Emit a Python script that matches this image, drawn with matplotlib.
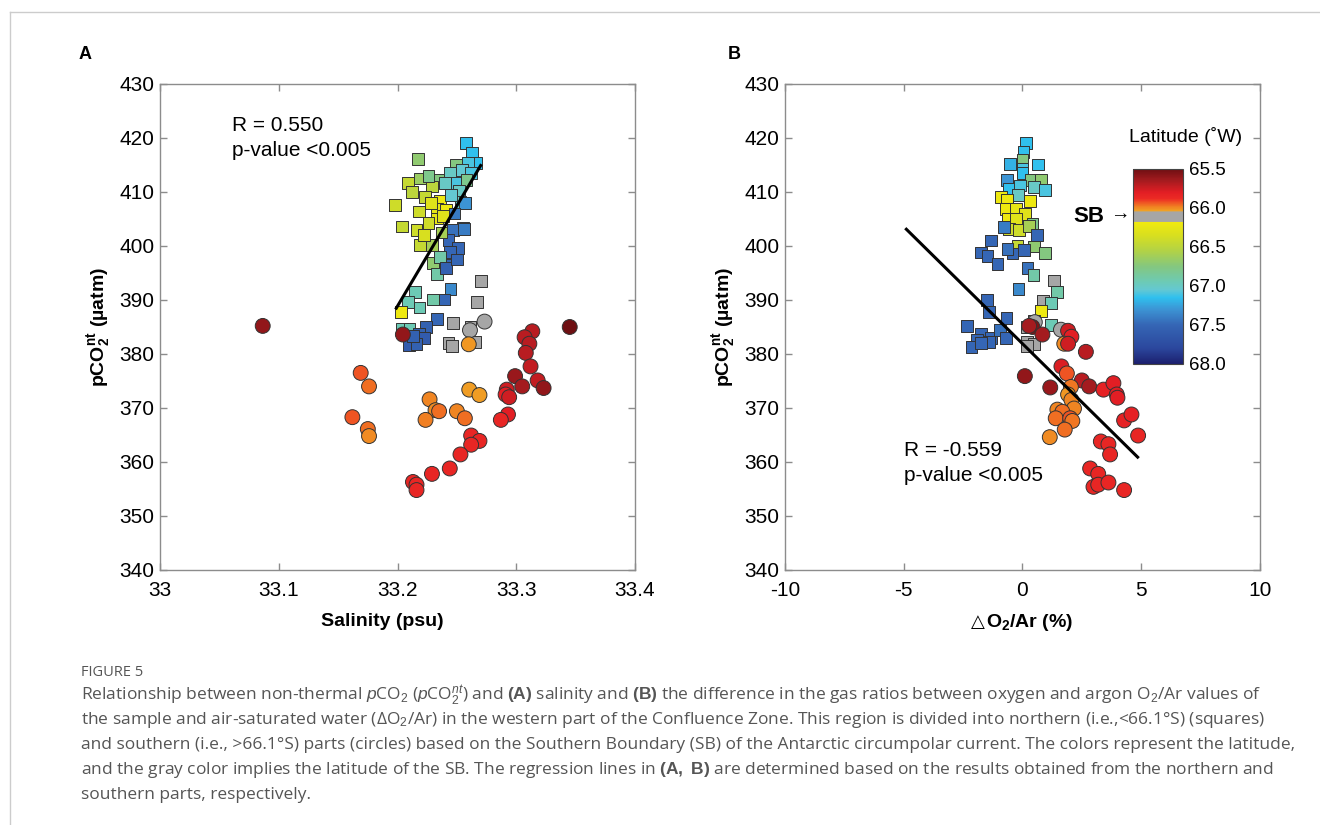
import numpy as np
import matplotlib
matplotlib.use("Agg")
import matplotlib.pyplot as plt
from matplotlib.colors import LinearSegmentedColormap, Normalize
from matplotlib.cm import ScalarMappable
from matplotlib.offsetbox import TextArea, HPacker, AnchoredOffsetbox

plt.rcParams['font.family'] = ['Liberation Sans', 'DejaVu Sans']
plt.rcParams['mathtext.fontset'] = 'custom'
plt.rcParams['mathtext.rm'] = 'Liberation Sans'
plt.rcParams['mathtext.it'] = 'Liberation Sans:italic'
plt.rcParams['mathtext.bf'] = 'Liberation Sans:bold'
plt.rcParams['axes.unicode_minus'] = False

# ---- panel A : salinity vs pCO2nt ----
# northern part (squares): salinity, pCO2, latitude
salA_sq = [33.2577, 33.2625, 33.2173, 33.266, 33.2596, 33.249, 33.244, 33.254, 33.262, 33.219,
           33.209, 33.234, 33.229, 33.240, 33.2504, 33.258, 33.252, 33.223, 33.236, 33.198,
           33.218, 33.233, 33.241, 33.253, 33.257, 33.233, 33.226, 33.238, 33.204, 33.216,
           33.255, 33.247, 33.219, 33.229, 33.243, 33.251, 33.244, 33.230, 33.240, 33.236,
           33.233, 33.241, 33.2447, 33.239, 33.230, 33.215, 33.209, 33.2185, 33.203, 33.204,
           33.210, 33.233, 33.224, 33.218, 33.222, 33.2095, 33.216, 33.213, 33.270, 33.2666,
           33.2466, 33.2615, 33.2657, 33.243, 33.246, 33.228, 33.245, 33.222, 33.248, 33.237,
           33.212, 33.226, 33.250, 33.256]
pco2A_sq = [419.1, 417.2, 416.1, 415.3, 415.3, 415.0, 413.6, 414.1, 413.5, 412.5,
            411.6, 412.2, 411.0, 411.7, 411.7, 412.2, 410.2, 409.1, 408.4, 407.6,
            406.4, 406.9, 406.7, 408.2, 408.0, 405.1, 404.2, 405.5, 403.6, 403.0,
            403.3, 403.0, 400.2, 400.2, 401.1, 399.6, 398.9, 396.8, 396.5, 398.0,
            394.8, 395.9, 392.1, 390.1, 390.1, 391.5, 389.6, 388.6, 387.8, 384.7,
            384.7, 386.5, 385.0, 383.8, 383.0, 381.6, 381.9, 383.3, 393.5, 389.6,
            385.7, 385.1, 382.2, 382.1, 381.5, 408.0, 409.5, 402.0, 406.0, 402.5,
            410.0, 413.0, 397.5, 403.2]
latA_sq = [67.15, 67.15, 66.7, 67.15, 67.1, 66.75, 67.0, 67.05, 67.1, 66.65,
           66.45, 66.75, 66.5, 67.0, 67.1, 66.8, 67.0, 66.45, 66.2, 66.4,
           66.4, 66.25, 66.2, 67.0, 67.3, 66.25, 66.4, 66.3, 66.45, 66.4,
           67.4, 67.45, 66.45, 66.6, 67.5, 67.5, 67.5, 66.7, 67.5, 66.9,
           66.9, 67.55, 67.35, 67.5, 66.9, 66.95, 66.95, 66.95, 66.2, 66.95,
           66.95, 67.5, 67.55, 67.55, 67.6, 67.6, 67.55, 67.55, 66.1, 66.1,
           66.1, 66.1, 66.1, 66.1, 66.1, 66.3, 67.05, 66.35, 67.4, 66.6,
           66.5, 66.8, 67.5, 67.4]
# southern part (circles)
salA_ci = [33.0865, 33.345, 33.2045, 33.2733, 33.261, 33.260, 33.3135, 33.307, 33.311, 33.308,
           33.312, 33.318, 33.323, 33.299, 33.305, 33.292, 33.291, 33.294, 33.293, 33.287,
           33.262, 33.269, 33.262, 33.253, 33.244, 33.229, 33.213, 33.216, 33.216, 33.169,
           33.176, 33.162, 33.175, 33.176, 33.227, 33.232, 33.235, 33.2236, 33.2604, 33.269,
           33.250, 33.2567]
pco2A_ci = [385.2, 385.0, 383.6, 386.0, 384.4, 381.8, 384.2, 383.1, 381.9, 380.2,
            377.7, 375.1, 373.7, 375.9, 374.0, 373.4, 372.5, 372.0, 368.8, 367.8,
            364.9, 363.9, 363.2, 361.4, 358.8, 357.8, 356.3, 355.8, 354.8, 376.5,
            374.0, 368.3, 366.1, 364.8, 371.6, 369.6, 369.4, 367.8, 373.4, 372.4,
            369.4, 368.1]
latA_ci = [65.6, 65.5, 65.6, 66.1, 66.1, 66.02, 65.7, 65.7, 65.7, 65.7,
           65.72, 65.72, 65.6, 65.62, 65.65, 65.75, 65.8, 65.75, 65.8, 65.85,
           65.85, 65.85, 65.85, 65.85, 65.85, 65.85, 65.85, 65.85, 65.85, 65.93,
           65.96, 65.93, 65.96, 66.0, 65.99, 66.0, 65.96, 65.98, 66.03, 66.03,
           65.99, 65.96]
fitA_x = [33.199, 33.270]
fitA_y = [388.5, 414.9]

# ---- panel B : dO2/Ar vs pCO2nt ----
dB_sq = [0.14, 0.04, 0.00, -0.52, 0.66, 0.0, 0.0, -0.66, 0.35, 0.77,
         -0.56, -0.1, 0.49, 0.96, -0.2, -0.91, -0.66, 0.32, -0.70, -0.28,
         0.10, -0.63, -0.28, 0.42, -0.56, -0.14, 0.28, -0.77, 0.60, -0.21,
         0.49, 0.96, 0.07, -0.42, -1.33, -1.76, -1.47, -1.05, -0.63, 0.21,
         0.46, -0.17, 1.33, 1.47, 0.88, 1.19, 0.77, -1.50, -1.40, -0.67,
         -2.32, -1.76, -1.9, -1.33, -1.40, -2.15, -1.76, -0.95, -0.70, 1.19,
         0.49, 0.20, 0.18, 0.49, 0.20]
pco2B_sq = [419.1, 417.4, 416.0, 415.2, 415.1, 414.3, 413.5, 412.2, 412.2, 412.3,
            410.6, 411.2, 410.9, 410.3, 409.4, 409.0, 408.5, 408.3, 406.9, 406.9,
            405.9, 405.1, 405.0, 404.1, 403.2, 403.0, 403.7, 403.5, 402.0, 400.1,
            399.9, 398.7, 399.2, 398.6, 401.0, 398.8, 398.1, 396.7, 399.5, 395.9,
            394.7, 392.1, 393.6, 391.5, 389.8, 389.5, 387.9, 390.0, 387.8, 386.7,
            385.2, 383.8, 382.6, 383.0, 382.2, 381.3, 382.0, 384.5, 383.0, 385.4,
            386.2, 385.0, 382.2, 381.9, 381.5]
latB_sq = [67.15, 67.15, 66.75, 67.2, 67.15, 67.1, 67.15, 67.3, 66.75, 66.7,
           67.15, 67.1, 67.0, 67.1, 67.0, 66.2, 66.2, 66.2, 66.2, 66.25,
           66.3, 66.2, 66.3, 66.8, 66.4, 66.4, 66.6, 67.4, 67.5, 66.45,
           66.7, 66.75, 67.5, 67.5, 67.5, 67.5, 67.5, 67.5, 67.45, 67.45,
           66.9, 67.35, 66.1, 66.9, 66.1, 66.95, 66.2, 67.5, 67.5, 67.5,
           67.5, 67.5, 67.5, 67.5, 67.5, 67.5, 67.5, 67.45, 67.5, 66.95,
           66.1, 66.1, 66.1, 66.1, 66.1]
dB_ci = [0.52, 0.42, 0.28, 0.84, 1.62, 1.92, 2.06, 1.76, 1.92, 2.67,
         1.64, 1.87, 0.10, 1.17, 2.50, 2.81, 2.04, 1.92, 2.06, 2.17,
         1.47, 1.68, 1.40, 2.01, 2.10, 1.78, 1.15, 3.41, 3.83, 3.97,
         4.00, 4.28, 4.59, 4.87, 3.30, 3.62, 3.69, 2.85, 3.19, 2.99,
         3.19, 3.62, 4.28]
pco2B_ci = [385.9, 385.0, 385.2, 383.6, 384.5, 384.3, 383.2, 381.9, 381.9, 380.4,
            377.7, 376.4, 375.9, 373.8, 375.1, 374.0, 373.9, 372.5, 371.5, 369.9,
            369.7, 369.3, 368.1, 368.1, 367.6, 366.0, 364.6, 373.4, 374.6, 372.5,
            371.9, 367.7, 368.8, 364.9, 363.8, 363.3, 361.4, 358.8, 357.8, 355.4,
            355.8, 356.2, 354.8]
latB_ci = [66.1, 65.55, 65.65, 65.65, 66.1, 65.75, 65.8, 66.0, 65.75, 65.7,
           65.78, 65.93, 65.6, 65.62, 65.7, 65.65, 65.97, 66.02, 65.99, 65.99,
           65.99, 65.96, 65.96, 65.93, 65.97, 65.96, 66.0, 65.82, 65.8, 65.8,
           65.8, 65.82, 65.82, 65.85, 65.85, 65.85, 65.85, 65.85, 65.85, 65.85,
           65.85, 65.85, 65.85]
fitB_x = [-4.89, 4.85]
fitB_y = [403.1, 360.9]

# colour scale (latitude), gray band marks the SB
lat_min, lat_max = 65.5, 68.0
cmap_lat = [65.5, 65.65, 65.8, 65.88, 65.93, 65.98, 66.04, 66.045, 66.17, 66.175,
            66.35, 66.55, 66.75, 66.95, 67.05, 67.15, 67.3, 67.5, 67.8, 68.0]
cmap_col = ['#6e0f12', '#a51b1f', '#e31e24', '#ec2b24', '#ef5423', '#f07f22', '#f0a424',
            '#a6a6a6', '#a6a6a6', '#f2ea0e', '#d8df1f', '#b2d246', '#84c77f', '#6ccab6',
            '#64c8d2', '#2fc0ee', '#3c94d4', '#3566b5', '#2b479d', '#1c1f6e']
pos = [(v - lat_min) / (lat_max - lat_min) for v in cmap_lat]
cmap = LinearSegmentedColormap.from_list('lat', list(zip(pos, cmap_col)), N=512)
norm = Normalize(lat_min, lat_max)

fig = plt.figure(figsize=(13.2, 8.25), dpi=100)
ax1 = fig.add_axes([0.1212, 0.3091, 0.3599, 0.5891])
ax2 = fig.add_axes([0.5947, 0.3091, 0.3598, 0.5891])

spine_col = '#8c8c8c'
for ax in (ax1, ax2):
    for sp in ax.spines.values():
        sp.set_color(spine_col)
        sp.set_linewidth(1.0)
    ax.tick_params(direction='in', length=5, width=1, color=spine_col,
                   top=True, right=True, labelsize=15, pad=4)
    ax.tick_params(axis='x', pad=8)
    ax.set_ylim(340, 430)
    ax.set_yticks(np.arange(340, 431, 10))

# panel A
ax1.scatter(salA_sq, pco2A_sq, c=latA_sq, cmap=cmap, norm=norm, marker='s', s=72,
            edgecolors='#333333', linewidths=0.7, zorder=3)
ax1.scatter(salA_ci, pco2A_ci, c=latA_ci, cmap=cmap, norm=norm, marker='o', s=115,
            edgecolors='#333333', linewidths=0.7, zorder=3)
ax1.plot(fitA_x, fitA_y, color='black', lw=2.2, zorder=4)
ax1.set_xlim(33, 33.4)
ax1.set_xticks([33, 33.1, 33.2, 33.3, 33.4])
ax1.set_xticklabels(['33', '33.1', '33.2', '33.3', '33.4'])
ax1.set_xlabel('Salinity (psu)', fontsize=14, fontweight='bold')
ax1.xaxis.set_label_coords(0.467, -0.088)
ax1.set_ylabel(r'pCO$_\mathbf{2}^\mathbf{nt}$ (µatm)', fontsize=14, fontweight='bold', labelpad=5)
ax1.text(0.151, 0.935, 'R = 0.550\np-value <0.005', transform=ax1.transAxes,
         fontsize=15, va='top', ha='left', linespacing=1.42)

# panel B
ax2.scatter(dB_sq, pco2B_sq, c=latB_sq, cmap=cmap, norm=norm, marker='s', s=72,
            edgecolors='#333333', linewidths=0.7, zorder=3)
ax2.scatter(dB_ci, pco2B_ci, c=latB_ci, cmap=cmap, norm=norm, marker='o', s=115,
            edgecolors='#333333', linewidths=0.7, zorder=3)
ax2.plot(fitB_x, fitB_y, color='black', lw=2.2, zorder=4)
ax2.set_xlim(-10, 10)
ax2.set_xticks([-10, -5, 0, 5, 10])
# x label: small open triangle + bold text
tri = TextArea('△', textprops=dict(fontsize=13, family='DejaVu Sans'))
lab = TextArea(r'O$_\mathbf{2}$/Ar (%)', textprops=dict(fontsize=14, fontweight='bold'))
xlab_box = HPacker(children=[tri, lab], align='baseline', pad=0, sep=1)
ax2.add_artist(AnchoredOffsetbox(loc='upper center', child=xlab_box, pad=0, frameon=False,
                                 bbox_to_anchor=(0.5, -0.086), bbox_transform=ax2.transAxes,
                                 borderpad=0))
ax2.set_ylabel(r'pCO$_\mathbf{2}^\mathbf{nt}$ (µatm)', fontsize=14, fontweight='bold', labelpad=5)
ax2.text(0.2505, 0.266, 'R = -0.559\np-value <0.005', transform=ax2.transAxes,
         fontsize=15, va='top', ha='left', linespacing=1.42)

# colour bar
cax = fig.add_axes([0.8583, 0.5588, 0.0379, 0.2364])
cb = fig.colorbar(ScalarMappable(norm=norm, cmap=cmap), cax=cax)
cb.set_ticks([65.5, 66.0, 66.5, 67.0, 67.5, 68.0])
cb.set_ticklabels(['65.5', '66.0', '66.5', '67.0', '67.5', '68.0'])
cax.invert_yaxis()
cb.outline.set_edgecolor('#444444')
cb.outline.set_linewidth(0.8)
cax.tick_params(labelsize=13.5, length=0, pad=4)
cax.text(1.05, 1.12, 'Latitude (˚W)', transform=cax.transAxes, fontsize=14,
         ha='center', va='bottom')
cax.text(-0.58, 66.11, 'SB', transform=cax.get_yaxis_transform(), fontsize=16,
         fontweight='bold', ha='right', va='center')
cax.text(-0.06, 66.08, '→', transform=cax.get_yaxis_transform(), fontsize=14,
         ha='right', va='center')

# panel letters
fig.text(0.0645, 0.934, 'A', fontsize=13, fontweight='bold', ha='center', va='center')
fig.text(0.5565, 0.934, 'B', fontsize=13, fontweight='bold', ha='center', va='center')

# page frame and caption
frame_col = '#cccccc'
fig.add_artist(plt.Line2D([0.0072, 0.0072], [0, 0.9855], color=frame_col, lw=1))
fig.add_artist(plt.Line2D([0.0072, 1.0], [0.9855, 0.9855], color=frame_col, lw=1))
cap_col = '#555555'
fig.text(0.061, 0.185, 'FIGURE 5', fontsize=10.5, color=cap_col, family='Open Sans', va='center')
cap_lines = [
    r'Relationship between non-thermal $\mathit{p}$CO$_2$ ($\mathit{p}$CO$_2^{nt}$) and $\mathbf{(A)}$ salinity and $\mathbf{(B)}$ the difference in the gas ratios between oxygen and argon O$_2$/Ar values of',
    r'the sample and air-saturated water (ΔO$_2$/Ar) in the western part of the Confluence Zone. This region is divided into northern (i.e.,<66.1°S) (squares)',
    'and southern (i.e., >66.1°S) parts (circles) based on the Southern Boundary (SB) of the Antarctic circumpolar current. The colors represent the latitude,',
    r'and the gray color implies the latitude of the SB. The regression lines in $\mathbf{(A,\ B)}$ are determined based on the results obtained from the northern and',
    'southern parts, respectively.',
]
for i, line in enumerate(cap_lines):
    fig.text(0.061, 0.157 - i * 0.0303, line, fontsize=12.5, color=cap_col,
             family='Open Sans', va='center')

fig.savefig('out.png', dpi=100)
